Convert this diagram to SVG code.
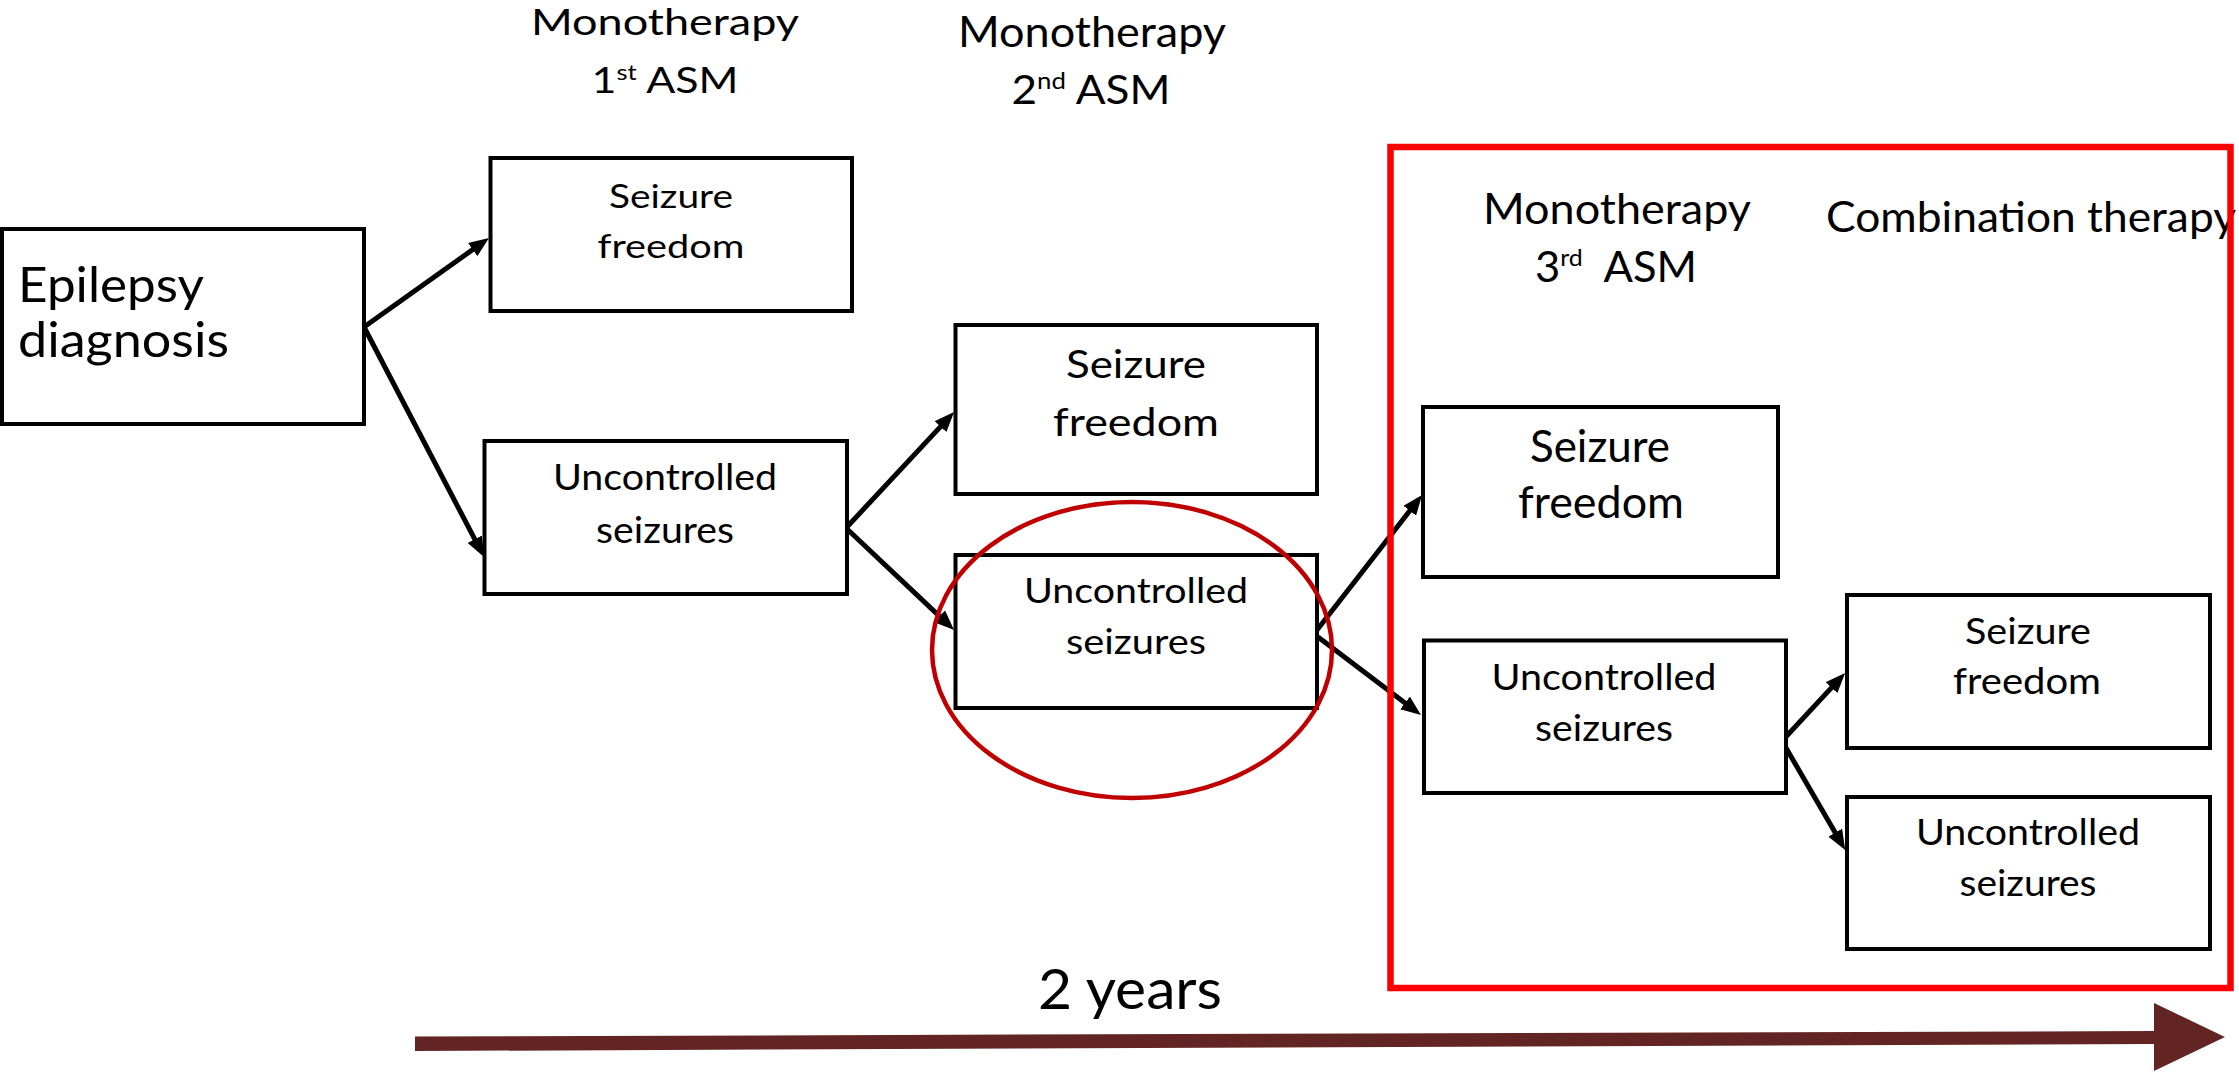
<svg xmlns="http://www.w3.org/2000/svg" width="2239" height="1072" viewBox="0 0 2239 1072">
<style>
.box{fill:#fff;stroke:#000;stroke-width:4}
.t{font-family:Lato,"Liberation Sans",sans-serif;fill:#000;text-anchor:middle}
.l{text-anchor:start}
.c{fill:none;stroke:#000;stroke-width:5;marker-end:url(#ah)}
</style>
<defs>
<marker id="ah" viewBox="0 0 20 16" markerWidth="20" markerHeight="16" refX="10" refY="8" orient="auto" markerUnits="userSpaceOnUse">
<path d="M0,0 L20,8 L0,16 z" fill="#000"/>
</marker>
</defs>
<rect width="2239" height="1072" fill="#fff"/>

<g id="headers">
<text class="t" x="665" y="35" font-size="36" textLength="268" lengthAdjust="spacingAndGlyphs">Monotherapy</text>
<text class="t" x="665" y="93" font-size="37" textLength="147" lengthAdjust="spacingAndGlyphs">1<tspan font-size="22" dy="-13">st</tspan><tspan dy="13"> ASM</tspan></text>
<text class="t" x="1092" y="47" font-size="42" textLength="268" lengthAdjust="spacingAndGlyphs">Monotherapy</text>
<text class="t" x="1091" y="104" font-size="41" textLength="159" lengthAdjust="spacingAndGlyphs">2<tspan font-size="24" dy="-15">nd</tspan><tspan dy="15"> ASM</tspan></text>
<text class="t" x="1617" y="224" font-size="43" textLength="268" lengthAdjust="spacingAndGlyphs">Monotherapy</text>
<text class="t" x="1616" y="282" font-size="42" textLength="162" lengthAdjust="spacingAndGlyphs" xml:space="preserve">3<tspan font-size="24" dy="-16">rd</tspan><tspan dy="16">  ASM</tspan></text>
<text class="t l" x="1826" y="232" font-size="42" textLength="410" lengthAdjust="spacingAndGlyphs">Combination therapy</text>
</g>

<g id="connectors">
<line class="c" x1="364" y1="327" x2="480.85" y2="243.8"/>
<line class="c" x1="364" y1="327" x2="479.4" y2="548.1"/>
<line class="c" x1="846" y1="528" x2="947.3" y2="419.4"/>
<line class="c" x1="846" y1="528" x2="946.8" y2="623.1"/>
<line class="c" x1="1317" y1="630" x2="1415.9" y2="502.9"/>
<line class="c" x1="1318" y1="637" x2="1413" y2="709"/>
<line class="c" x1="1782" y1="741" x2="1838.3" y2="680.4"/>
<line class="c" x1="1782" y1="741" x2="1840.2" y2="841.3"/>
</g>

<g id="epilepsy-diagnosis">
<rect class="box" x="2" y="229" width="362" height="195"/>
<text class="t l" x="18" y="302" font-size="49" textLength="186" lengthAdjust="spacingAndGlyphs">Epilepsy</text>
<text class="t l" x="18" y="357" font-size="49" textLength="211" lengthAdjust="spacingAndGlyphs">diagnosis</text>
</g>

<g id="sf1">
<rect class="box" x="490.5" y="158" width="361.5" height="153"/>
<text class="t" x="671" y="208" font-size="32" textLength="124" lengthAdjust="spacingAndGlyphs">Seizure</text>
<text class="t" x="671" y="258" font-size="32" textLength="147" lengthAdjust="spacingAndGlyphs">freedom</text>
</g>

<g id="uc1">
<rect class="box" x="484.5" y="441" width="362.5" height="153"/>
<text class="t" x="665" y="490" font-size="37" textLength="224" lengthAdjust="spacingAndGlyphs">Uncontrolled</text>
<text class="t" x="665" y="543" font-size="37" textLength="138" lengthAdjust="spacingAndGlyphs">seizures</text>
</g>

<g id="sf2">
<rect class="box" x="955.5" y="325" width="361.5" height="169"/>
<text class="t" x="1136" y="378" font-size="39" textLength="140" lengthAdjust="spacingAndGlyphs">Seizure</text>
<text class="t" x="1136" y="436" font-size="39" textLength="166" lengthAdjust="spacingAndGlyphs">freedom</text>
</g>

<g id="uc2">
<rect class="box" x="955.5" y="555" width="361.5" height="153"/>
<text class="t" x="1136" y="603" font-size="35" textLength="224" lengthAdjust="spacingAndGlyphs">Uncontrolled</text>
<text class="t" x="1136" y="654" font-size="35" textLength="140" lengthAdjust="spacingAndGlyphs">seizures</text>
</g>

<g id="sf3">
<rect class="box" x="1423" y="407" width="355" height="170"/>
<text class="t" x="1600" y="462" font-size="44" textLength="140" lengthAdjust="spacingAndGlyphs">Seizure</text>
<text class="t" x="1601" y="518" font-size="44" textLength="166" lengthAdjust="spacingAndGlyphs">freedom</text>
</g>

<g id="uc3">
<rect class="box" x="1424" y="640.5" width="362" height="152.5"/>
<text class="t" x="1604" y="690" font-size="37" textLength="225" lengthAdjust="spacingAndGlyphs">Uncontrolled</text>
<text class="t" x="1604" y="741" font-size="37" textLength="138" lengthAdjust="spacingAndGlyphs">seizures</text>
</g>

<g id="sf4">
<rect class="box" x="1847" y="595" width="363" height="153"/>
<text class="t" x="2028" y="644" font-size="36" textLength="126" lengthAdjust="spacingAndGlyphs">Seizure</text>
<text class="t" x="2027" y="694" font-size="36" textLength="148" lengthAdjust="spacingAndGlyphs">freedom</text>
</g>

<g id="uc4">
<rect class="box" x="1847" y="797" width="363" height="152"/>
<text class="t" x="2028" y="845" font-size="37" textLength="224" lengthAdjust="spacingAndGlyphs">Uncontrolled</text>
<text class="t" x="2028" y="896" font-size="37" textLength="137" lengthAdjust="spacingAndGlyphs">seizures</text>
</g>

<g id="highlight">
<ellipse cx="1132" cy="650" rx="200" ry="148" fill="none" stroke="#C00000" stroke-width="4.5"/>
<rect x="1390.5" y="147" width="840" height="841" fill="none" stroke="#FF0000" stroke-width="6.5"/>
</g>

<g id="timeline">
<text class="t" x="1130" y="1009" font-size="57" textLength="184" lengthAdjust="spacingAndGlyphs">2 years</text>
<polygon points="415,1036.5 2154,1031 2154,1003 2225,1037 2154,1071 2154,1044 415,1051" fill="#632523"/>
</g>
</svg>
